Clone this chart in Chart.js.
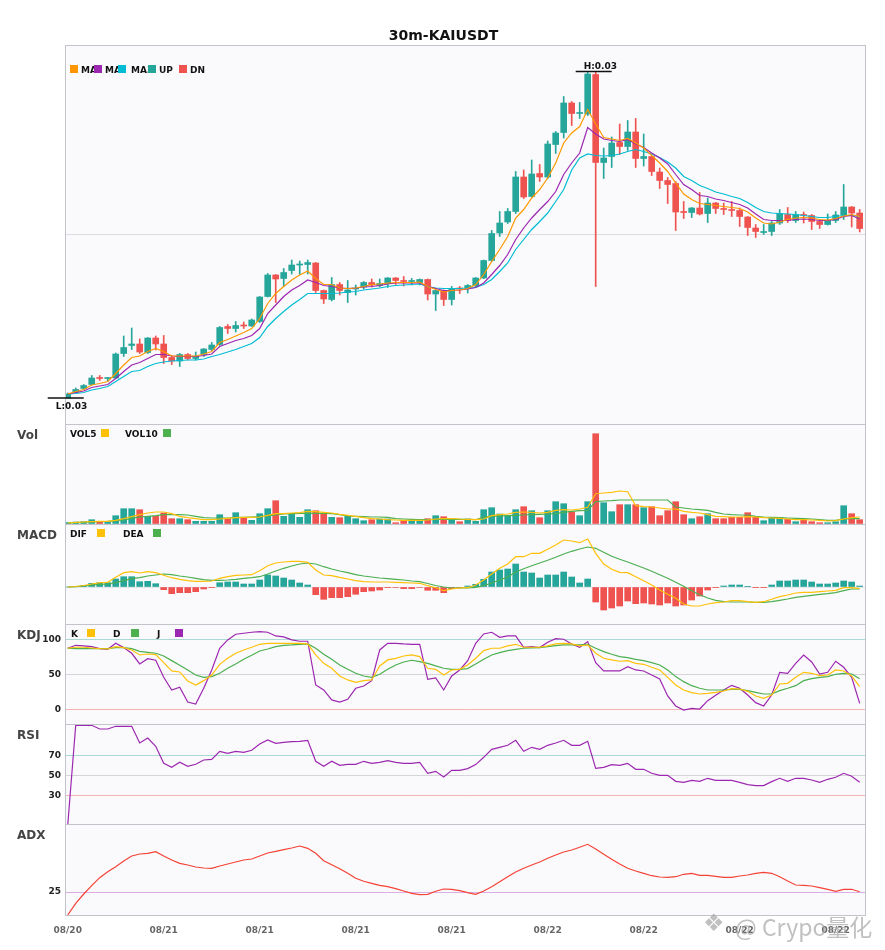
<!DOCTYPE html>
<html>
<head>
<meta charset="utf-8">
<title>30m-KAIUSDT</title>
<script src="https://cdn.jsdelivr.net/npm/chart.js"></script>
<style>
  body { margin: 0; background: #fff; }
  #wrap { position: relative; width: 885px; height: 950px; overflow: hidden; }
  #wrap canvas { position: absolute; left: 0; top: 0; }
  .wm { position: absolute; top: 909px; line-height: 23px; color: rgba(165,165,165,0.7); white-space: nowrap; }
  #wmIcon { left: 703px; font: 24px "DejaVu Sans", sans-serif; }
  #wmText { left: 735px; font: 23px "Noto Sans CJK SC", "Noto Sans", sans-serif; }
</style>
</head>
<body>
<div id="wrap">
  <canvas id="cMain" width="885" height="950"></canvas>
  <canvas id="cVol" width="885" height="950"></canvas>
  <canvas id="cMacd" width="885" height="950"></canvas>
  <canvas id="cKdj" width="885" height="950"></canvas>
  <canvas id="cRsi" width="885" height="950"></canvas>
  <canvas id="cAdx" width="885" height="950"></canvas>
  <div class="wm" id="wmIcon">❖</div>
  <div class="wm" id="wmText">@ Crypo量化</div>
</div>
<script>
// prices are in 1e-5 units (2800 = 0.02800)
const OPEN = [
  2800, 2811, 2819, 2827, 2841, 2839, 2840, 2889, 2905, 2908,
  2891, 2920, 2908, 2881, 2874, 2887, 2879, 2887, 2897, 2907,
  2943, 2939, 2946, 2944, 2953, 3003, 3046, 3039, 3055, 3066,
  3067, 3070, 3015, 2997, 3027, 3011, 3018, 3022, 3031, 3025,
  3029, 3040, 3035, 3033, 3031, 3037, 3008, 3015, 2997, 3020,
  3019, 3024, 3040, 3075, 3130, 3152, 3173, 3242, 3203, 3249,
  3242, 3307, 3331, 3390, 3369, 3368, 3447, 3271, 3283, 3311,
  3303, 3332, 3279, 3283, 3252, 3235, 3229, 3173, 3171, 3180,
  3169, 3190, 3179, 3177, 3175, 3162, 3140, 3131, 3133, 3150,
  3167, 3155, 3167, 3165, 3153, 3147, 3155, 3166, 3182, 3170
];
const HIGH = [
  2810, 2820, 2827, 2845, 2845, 2841, 2890, 2924, 2940, 2918,
  2921, 2924, 2925, 2885, 2889, 2889, 2892, 2899, 2911, 2943,
  2947, 2953, 2952, 2958, 3003, 3049, 3047, 3059, 3076, 3074,
  3076, 3071, 3016, 3041, 3031, 3035, 3026, 3033, 3038, 3038,
  3041, 3041, 3043, 3039, 3038, 3038, 3015, 3016, 3023, 3023,
  3027, 3041, 3076, 3135, 3173, 3179, 3253, 3256, 3276, 3267,
  3314, 3333, 3403, 3393, 3391, 3451, 3453, 3300, 3322, 3348,
  3355, 3359, 3328, 3284, 3260, 3241, 3233, 3193, 3181, 3211,
  3200, 3191, 3190, 3193, 3180, 3163, 3147, 3147, 3153, 3177,
  3181, 3173, 3172, 3167, 3155, 3168, 3173, 3227, 3183, 3177
];
const LOW = [
  2800, 2810, 2817, 2826, 2835, 2833, 2839, 2883, 2897, 2889,
  2889, 2896, 2869, 2867, 2863, 2876, 2876, 2883, 2895, 2905,
  2929, 2932, 2939, 2943, 2951, 3002, 2991, 3023, 3048, 3047,
  3048, 3011, 2989, 2994, 3006, 2991, 3006, 3018, 3022, 3022,
  3021, 3027, 3024, 3026, 3026, 2996, 2975, 2985, 2986, 3009,
  3010, 3023, 3039, 3073, 3123, 3149, 3169, 3199, 3202, 3233,
  3239, 3289, 3320, 3345, 3359, 3365, 3023, 3239, 3261, 3287,
  3295, 3261, 3264, 3245, 3219, 3189, 3135, 3159, 3161, 3166,
  3151, 3169, 3167, 3163, 3143, 3125, 3121, 3127, 3125, 3147,
  3151, 3151, 3150, 3137, 3139, 3146, 3151, 3157, 3142, 3132
];
const CLOSE = [
  2808, 2817, 2825, 2840, 2839, 2840, 2888, 2901, 2908, 2892,
  2920, 2908, 2881, 2874, 2887, 2879, 2884, 2898, 2906, 2941,
  2939, 2945, 2944, 2956, 3002, 3046, 3038, 3051, 3066, 3067,
  3071, 3015, 2998, 3027, 3015, 3016, 3019, 3031, 3026, 3029,
  3040, 3035, 3033, 3035, 3037, 3008, 3015, 2997, 3019, 3018,
  3025, 3040, 3075, 3129, 3150, 3173, 3242, 3202, 3248, 3242,
  3308, 3330, 3390, 3369, 3370, 3448, 3271, 3280, 3310, 3303,
  3332, 3279, 3283, 3253, 3235, 3227, 3172, 3171, 3180, 3168,
  3190, 3179, 3177, 3175, 3163, 3141, 3133, 3132, 3150, 3169,
  3155, 3167, 3165, 3153, 3147, 3155, 3166, 3182, 3170, 3139
];
const MA5 = [
  2808, 2813, 2817, 2826, 2829, 2833, 2849, 2866, 2881, 2884,
  2893, 2899, 2893, 2884, 2884, 2884, 2884, 2888, 2893, 2911,
  2917, 2924, 2931, 2939, 2959, 2989, 3009, 3023, 3036, 3046,
  3054, 3039, 3027, 3027, 3020, 3019, 3020, 3023, 3027, 3028,
  3030, 3031, 3031, 3031, 3032, 3023, 3017, 3012, 3015, 3016,
  3019, 3027, 3047, 3073, 3097, 3123, 3160, 3177, 3200, 3217,
  3240, 3270, 3310, 3330, 3343, 3377, 3348, 3321, 3318, 3315,
  3319, 3310, 3300, 3285, 3270, 3253, 3230, 3208, 3197, 3189,
  3187, 3185, 3183, 3181, 3179, 3172, 3160, 3150, 3148, 3152,
  3157, 3160, 3161, 3160, 3157, 3156, 3159, 3164, 3167, 3163
];
const MA10 = [
  2808, 2811, 2814, 2821, 2824, 2827, 2839, 2853, 2866, 2871,
  2879, 2887, 2887, 2884, 2883, 2883, 2883, 2885, 2888, 2903,
  2909, 2915, 2919, 2925, 2939, 2969, 2986, 3003, 3016, 3025,
  3036, 3031, 3025, 3023, 3020, 3019, 3020, 3022, 3023, 3025,
  3028, 3030, 3030, 3030, 3030, 3023, 3019, 3015, 3015, 3016,
  3018, 3021, 3030, 3047, 3065, 3087, 3117, 3140, 3160, 3177,
  3193, 3213, 3247, 3270, 3290, 3341, 3328, 3318, 3315, 3313,
  3317, 3308, 3301, 3290, 3280, 3268, 3247, 3227, 3217, 3205,
  3203, 3198, 3195, 3191, 3187, 3180, 3168, 3157, 3155, 3155,
  3155, 3157, 3158, 3157, 3155, 3155, 3157, 3163, 3165, 3158
];
const MA30 = [
  2808, 2809, 2811, 2816, 2819, 2823, 2833, 2843, 2853, 2855,
  2863, 2869, 2872, 2874, 2875, 2876, 2876, 2878, 2883, 2887,
  2892, 2897, 2903, 2909, 2921, 2943, 2959, 2973, 2986, 2997,
  3009, 3009, 3009, 3009, 3010, 3012, 3013, 3016, 3018, 3020,
  3023, 3025, 3026, 3027, 3028, 3023, 3020, 3019, 3019, 3019,
  3020, 3021, 3027, 3037, 3053, 3070, 3097, 3117, 3137, 3153,
  3170, 3193, 3217, 3256, 3280, 3288, 3285, 3284, 3285, 3288,
  3293, 3297, 3293, 3288, 3281, 3272, 3260, 3243, 3235, 3225,
  3219, 3212, 3208, 3203, 3199, 3191, 3181, 3173, 3170, 3169,
  3168, 3167, 3165, 3163, 3161, 3161, 3163, 3165, 3165, 3163
];
const VOLUME = [
  1500, 2000, 2300, 4300, 1700, 2300, 8300, 15300, 15300, 14300,
  7700, 7700, 11000, 5300, 5300, 4300, 2700, 2700, 2700, 9300,
  5000, 11300, 6700, 3700, 10300, 15300, 23300, 7700, 10000, 6700,
  14300, 13300, 10300, 6700, 6300, 8300, 5300, 3300, 4300, 5000,
  5000, 1300, 3700, 2700, 2700, 5300, 8300, 7300, 5500, 2300,
  5000, 2700, 14300, 16300, 10000, 8300, 14300, 17300, 13300, 6300,
  13300, 22300, 20300, 12300, 8300, 22300, 90300, 21300, 12300, 19300,
  19300, 19300, 16300, 17300, 8300, 13300, 22300, 9300, 5300, 7300,
  10300, 5300, 5300, 6700, 6700, 11300, 6700, 3300, 6300, 6300,
  4700, 2300, 4300, 2300, 1300, 1300, 2300, 18300, 10300, 4300
];
const VOL5 = [
  1000, 1700, 2000, 2300, 2700, 2700, 3700, 5300, 7300, 9300,
  11000, 12000, 12000, 10300, 7700, 6300, 5300, 4300, 4300, 5000,
  5700, 6300, 6700, 6700, 7000, 8700, 10300, 10300, 11000, 11300,
  12700, 12300, 11700, 11000, 9700, 8700, 7700, 6300, 5300, 5000,
  4300, 4000, 3700, 3700, 3700, 4000, 5000, 5300, 5500, 5000,
  4700, 4300, 5000, 8300, 9300, 10000, 11700, 12000, 11700, 11000,
  11700, 13700, 14300, 14000, 15000, 16700, 30300, 31000, 31700, 33000,
  32300, 18300, 17300, 17000, 16000, 15000, 15000, 12700, 11700, 11000,
  9300, 7700, 7300, 7000, 7000, 7300, 7000, 6300, 6000, 5700,
  5000, 4300, 4300, 4000, 3700, 3000, 3300, 5000, 6300, 7000
];
const VOL10 = [
  1000, 1300, 1700, 2000, 2300, 2700, 3300, 4000, 5700, 7000,
  7700, 8300, 9300, 9300, 9300, 9000, 7700, 6300, 6000, 6000,
  6000, 6300, 6700, 7000, 7300, 8000, 9000, 10000, 10300, 10700,
  10700, 10700, 10700, 10300, 9300, 8000, 7700, 7300, 7000, 7000,
  6700, 5300, 5000, 4700, 4300, 4300, 4500, 4700, 4700, 4700,
  4700, 4300, 7000, 7700, 8000, 8300, 8700, 9000, 9300, 9700,
  10000, 10300, 11700, 12700, 13300, 13700, 22300, 23000, 23300, 24000,
  24000, 24000, 24000, 24000, 24000, 24000, 17000, 16000, 15000, 14300,
  13700, 11700, 10000, 9300, 9000, 9000, 7700, 7000, 6700, 6300,
  6000, 5700, 5300, 5000, 4300, 3700, 3700, 5000, 5300, 5300
];
// MACD values in 1e-5 units
const MACD_HIST = [
  0, 0.3, 1.7, 3.7, 4.3, 4.3, 8, 10.3, 10.3, 5.3,
  5.7, 3.3, -2.7, -6.7, -5.7, -5.7, -4.7, -2, -0.7, 4.3,
  5, 5, 3, 3, 7, 12, 11, 9, 7, 4,
  2, -7.7, -12.3, -10.7, -10.7, -9.7, -7.3, -4.7, -4, -3,
  -0.7, -0.5, -1.7, -1.7, -0.5, -3.3, -3.3, -5.7, -1.7, -0.7,
  1, 2.7, 7.7, 15, 17, 18, 23, 15, 14, 9,
  12, 12, 15, 10, 4, 8, -15, -23, -21, -19,
  -14, -16.7, -16, -17, -18, -16, -19, -18, -13, -9,
  -3, -0.7, 1, 2, 2, 0.3, -0.7, -0.7, 2, 6,
  6, 7, 7, 5, 3, 3, 4, 6, 5, 1
];
const DIF = [
  0, 0.5, 1.5, 3, 4.3, 4.7, 9.7, 14.3, 15.3, 14,
  15.3, 14.3, 11.7, 9.3, 7.7, 6.3, 5.7, 5.7, 6, 8.7,
  10.3, 11.7, 12, 12.3, 16.3, 21.3, 24, 25, 25.7, 25.7,
  24.7, 17, 12, 11.3, 9.7, 8, 6.3, 5.3, 5, 5,
  5, 4.7, 4.3, 4, 3.7, 1.3, -0.7, -3.7, -2, -1,
  -0.7, 2, 7, 13, 18.7, 23, 30.3, 30.3, 33.7, 33.7,
  37.7, 42, 47, 46, 44.3, 48, 33.7, 23, 17.7, 14.7,
  14.3, 10.3, 6.3, 2, -3, -7.3, -11.3, -17, -19, -19,
  -17, -15.7, -15, -13.7, -13.7, -14.7, -15.3, -14.7, -12.3, -9.7,
  -8, -6, -5.3, -5.3, -4.7, -4, -3.3, -0.7, -0.7, -1.7
];
const DEA = [
  0, 0.3, 1, 2, 2.7, 3, 4.3, 6.3, 8.3, 9.3,
  11, 12, 13, 12.3, 11, 10, 8.7, 7.3, 6.7, 6.7,
  7, 7.7, 8.7, 9.3, 10.3, 13, 16, 18.7, 21, 23,
  24, 23, 20.3, 18, 16, 14.3, 12.3, 11, 10, 9,
  8.3, 7.7, 7, 6, 5.3, 3.5, 1.5, 0, -1, -1,
  -1, -0.3, 1.3, 4, 7, 10, 15, 18.3, 21.3, 24,
  26.7, 29.7, 33, 35.7, 38, 40, 38.7, 34.7, 30.7, 27.7,
  25, 22, 19, 15.7, 12.3, 8.7, 4.7, 0.7, -3.7, -7.7,
  -11, -13.3, -14.7, -15, -15, -15, -15.3, -15.3, -14.7, -13.3,
  -12, -10.3, -9.3, -8.3, -7.3, -6.7, -5.7, -3.7, -2, -2
];
const KDJ_K = [
  87.3, 88.7, 88.7, 87.7, 86.8, 86.3, 89.6, 88.2, 84.9, 77.8,
  79.2, 78.3, 67, 55.2, 53.8, 41, 35.4, 41.5, 49.5, 64.6,
  73.1, 80.2, 84.9, 88.7, 92.9, 94.3, 94.3, 94.3, 94.3, 94.3,
  93.4, 77.8, 66, 59, 48.1, 42.5, 39.2, 41.5, 42.5, 62.3,
  70.8, 73.1, 76.4, 77.8, 75.5, 59, 57.5, 49.5, 56.6, 57.5,
  63.7, 73.1, 84, 87.3, 87.3, 90.6, 92.9, 88.7, 88.7, 88.7,
  90.6, 93.4, 94.3, 93.4, 90.6, 92, 80.2, 73.1, 70.8, 68.9,
  69.8, 66, 64.6, 60.4, 56.6, 46.2, 35.4, 28.3, 24.5, 22.6,
  23.6, 25, 26.9, 30.2, 29.7, 26.4, 19.8, 16.5, 21.2, 36.8,
  37.7, 46.2, 53.3, 51.9, 48.6, 49.5, 56.6, 55.2, 48.1, 33
];
const KDJ_D = [
  87.3, 86.8, 86.8, 86.8, 86.8, 86.8, 88.2, 88.2, 86.8, 83,
  81.6, 80.2, 76.4, 69.8, 63.2, 56.6, 49.5, 46.2, 47.2, 51.9,
  59, 65.1, 71.7, 77.4, 83.5, 86.3, 89.6, 91.5, 92, 92.9,
  93.4, 87.3, 78.8, 71.7, 63.7, 57.5, 51.9, 48.1, 46.2, 50.5,
  57.5, 63.7, 67.9, 70.3, 68.4, 66, 62.3, 59, 57.5, 57.5,
  58.5, 65.1, 71.7, 77.8, 81.1, 84, 85.8, 87.3, 87.7, 88.2,
  89.6, 91, 92, 92, 92, 92.9, 87.3, 82.5, 78.8, 75.5,
  74.1, 71.7, 69.8, 67, 63.7, 56.6, 47.2, 40.1, 34.4, 30.7,
  28.3, 28.3, 28.3, 29.2, 29.2, 27.4, 25, 22.6, 22.6, 27.4,
  30.7, 34.4, 41.5, 44.3, 46.2, 47.2, 50.5, 51.9, 50.9, 44.3
];
const KDJ_J = [
  87.3, 91.5, 90.6, 89.6, 86.8, 85.8, 94.3, 88.2, 80.2, 65.1,
  72.6, 70.3, 46.2, 28.3, 32.1, 11.3, 8.5, 30.7, 56.6, 87.3,
  99.1, 107.1, 108.5, 109.9, 110.8, 109.9, 104.7, 103.3, 99.1, 97.2,
  97.2, 35.4, 28.3, 14.2, 11.3, 15.1, 30.7, 34, 41.5, 84.9,
  94.3, 94.3, 93.4, 92.9, 92.9, 43.4, 45.3, 28.3, 48.1, 56.6,
  69.8, 94.3, 107.5, 109.9, 102.8, 104.7, 104.7, 88.7, 89.6, 88.2,
  95.8, 100.9, 100, 93.4, 88.7, 96.7, 67, 55.2, 55.2, 55.2,
  61.3, 56.6, 55.2, 49.5, 43.9, 19.8, 5.7, 0, 2.4, 1.4,
  13.2, 20.8, 28.3, 34.9, 30.7, 21.2, 10.4, 5.7, 21.2, 53.3,
  51.9, 66, 77.8, 67.9, 50.9, 53.3, 68.9, 60.4, 46.2, 9.4
];
const RSI = [
  0, 100, 100, 100, 96.3, 96.3, 99, 99, 99, 82.3,
  87.3, 79, 62, 58, 63, 59, 61, 65.3, 66, 74,
  72, 74, 73, 75, 81.3, 85.3, 82, 83, 83.7, 84,
  85, 64, 59, 64, 60, 61, 61, 64, 62, 63,
  64.7, 63, 62, 62, 63, 52, 54, 48.3, 55, 55,
  56.7, 60.7, 68, 76, 78, 80, 85, 74, 78, 76,
  80, 82.3, 85, 80, 80, 84, 57, 58, 60.7, 60,
  62, 56, 56, 52, 50, 50, 44, 43, 45, 44,
  47, 45, 45, 45, 43, 40.7, 39.7, 39.7, 43.7, 47,
  44, 47, 47, 45.3, 43, 46, 48, 52, 49, 43
];
const ADX = [
  2, 13.7, 23, 31.3, 39.3, 45.3, 50.3, 56, 61, 63,
  63.7, 65.3, 61, 57, 53.7, 52, 50, 49, 48.7, 51,
  53, 55, 57, 58, 61, 64, 65.7, 67.3, 69, 71,
  68.7, 63.7, 56.3, 52.3, 48.3, 43.7, 38.7, 35.7, 33.7, 31.7,
  30.3, 28.3, 26, 23.7, 22.3, 22.7, 25.8, 28, 27.7, 26.3,
  24.3, 22.7, 26, 30.3, 35.3, 40.3, 45, 48.7, 52, 55,
  58.7, 62, 65, 67, 69.7, 72.7, 68, 62.7, 57.7, 53,
  48.7, 46, 43.7, 41.3, 40, 39.7, 40.3, 42.7, 43.7, 41.7,
  41.7, 40.7, 39.7, 39.7, 41, 42, 43.7, 44.7, 43.7, 40.3,
  36, 32, 31.7, 31, 29.3, 27.7, 25.7, 27.7, 27.7, 25.3
];
const TICK_IDX = [0, 12, 24, 36, 48, 60, 72, 84, 96];
const TICK_LABELS = ['08/20', '08/21', '08/21', '08/21', '08/21', '08/22', '08/22', '08/22', '08/22'];

Chart.defaults.font.family = '"DejaVu Sans", sans-serif';

const UP = '#26a69a', DN = '#ef5350';
const FONT = '"DejaVu Sans", sans-serif';
const idx = OPEN.map((_, i) => i);
const dir = idx.map(i => CLOSE[i] >= OPEN[i] ? UP : DN);
const price = v => v / 1e5;
const pts = (arr, f) => arr.map((v, i) => ({ x: i, y: f ? f(v) : v }));

function line(label, data, color) {
  return { type: 'line', label, data, borderColor: color, borderWidth: 1.2,
           pointRadius: 0, tension: 0, fill: false, order: 1 };
}
function bars(data, colors, width) {
  return { type: 'bar', data, backgroundColor: colors, barThickness: width,
           grouped: false, order: 2 };
}

// background, border, panel name, legend and H/L markers
function decor(p) {
  return {
    id: 'decor',
    beforeDraw(chart) {
      const { ctx, chartArea: a } = chart;
      ctx.save();
      ctx.fillStyle = '#fafafc';
      ctx.fillRect(a.left, a.top, a.right - a.left, a.bottom - a.top);
      ctx.restore();
    },
    afterDraw(chart) {
      const { ctx, chartArea: a } = chart;
      ctx.save();
      ctx.strokeStyle = '#c3c3cb';
      ctx.lineWidth = 1;
      ctx.strokeRect(a.left + 0.5, a.top + 0.5, a.right - a.left - 1, a.bottom - a.top);

      if (p.title) {
        ctx.fillStyle = '#111';
        ctx.font = 'bold 14px ' + FONT;
        ctx.textAlign = 'center';
        ctx.fillText(p.title, 443.5, 39.5);
      }
      if (p.name) {
        ctx.fillStyle = '#444';
        ctx.font = 'bold 12px ' + FONT;
        ctx.textAlign = 'left';
        ctx.fillText(p.name, 17, a.top + 15);
      }
      if (p.legend) {
        const lg = p.legend;
        ctx.font = 'bold 9px ' + FONT;
        ctx.textAlign = 'left';
        lg.items.forEach((it, k) => {
          ctx.fillStyle = it.c;
          ctx.fillRect(it.sx, a.top + lg.sy, 8, 8);
          ctx.save();
          if (lg.clip && lg.items[k + 1]) {
            ctx.beginPath();
            ctx.rect(it.tx, a.top, lg.items[k + 1].sx - it.tx, 40);
            ctx.clip();
          }
          ctx.fillStyle = '#111';
          ctx.fillText(it.t, it.tx, a.top + lg.ty);
          ctx.restore();
        });
      }
      if (p.hl) {
        const xs = chart.scales.x, ys = chart.scales.y;
        const hi = Math.max(...HIGH), lo = Math.min(...LOW);
        const marks = [
          { v: hi, i: HIGH.indexOf(hi), tag: 'H:', dy: -3 },
          { v: lo, i: LOW.indexOf(lo), tag: 'L:', dy: 11 }
        ];
        ctx.strokeStyle = '#111';
        ctx.fillStyle = '#111';
        ctx.lineWidth = 1.3;
        ctx.font = 'bold 9px ' + FONT;
        marks.forEach(m => {
          const x = xs.getPixelForValue(m.i), y = ys.getPixelForValue(price(m.v));
          ctx.beginPath();
          ctx.moveTo(x - 20, y);
          ctx.lineTo(x + 16, y);
          ctx.stroke();
          ctx.fillText(m.tag + price(m.v).toFixed(2), x - 12, y + m.dy);
        });
      }
      ctx.restore();
    }
  };
}

const GRID_UP = '#a9d9d2', GRID_MID = '#d4d4d9', GRID_DN = '#f5b3b3';

const panels = [
  {
    id: 'cMain', top: 45, bottom: 424, min: 0.02748, max: 0.03506, title: '30m-KAIUSDT', hl: true,
    lines: [{ v: 0.03126, c: '#dcdce1' }],
    legend: { sy: 20, ty: 27.5, clip: true, items: [
      { t: 'MA5', c: '#ff9800', sx: 70, tx: 81 },
      { t: 'MA10', c: '#9c27b0', sx: 94, tx: 105 },
      { t: 'MA30', c: '#00bcd4', sx: 118, tx: 131 },
      { t: 'UP', c: UP, sx: 148, tx: 159 },
      { t: 'DN', c: DN, sx: 179, tx: 190 }
    ] },
    datasets: [
      Object.assign(bars(idx.map(i => ({ x: i, y: [price(LOW[i]), price(HIGH[i])] })), dir, 1), { order: 3 }),
      Object.assign(bars(idx.map(i => ({ x: i, y: [price(OPEN[i]), price(CLOSE[i])] })), dir, 6), { minBarLength: 1 }),
      line('MA5', pts(MA5, price), '#ff9800'),
      line('MA10', pts(MA10, price), '#9c27b0'),
      line('MA30', pts(MA30, price), '#00bcd4')
    ]
  },
  {
    id: 'cVol', top: 424, bottom: 524, min: 0, max: 100000, name: 'Vol',
    lines: [{ v: 0, c: 'rgba(0,0,0,0)' }],
    legend: { sy: 5, ty: 12.5, items: [
      { t: 'VOL5', c: '#ffc107', tx: 70, sx: 101 },
      { t: 'VOL10', c: '#4caf50', tx: 125, sx: 163 }
    ] },
    datasets: [
      bars(pts(VOLUME), dir, 6),
      line('VOL5', pts(VOL5), '#ffc107'),
      line('VOL10', pts(VOL10), '#4caf50')
    ]
  },
  {
    id: 'cMacd', top: 524, bottom: 624, min: -37, max: 63, name: 'MACD',
    lines: [{ v: 0, c: '#e3e3e8' }],
    legend: { sy: 5, ty: 12.5, items: [
      { t: 'DIF', c: '#ffc107', tx: 70, sx: 97 },
      { t: 'DEA', c: '#4caf50', tx: 123, sx: 153 }
    ] },
    datasets: [
      bars(pts(MACD_HIST), MACD_HIST.map(v => v >= 0 ? UP : DN), 6),
      line('DIF', pts(DIF), '#ffc107'),
      line('DEA', pts(DEA), '#4caf50')
    ]
  },
  {
    id: 'cKdj', top: 624, bottom: 724, min: -19.8, max: 121.6, name: 'KDJ', labels: true,
    lines: [{ v: 0, c: GRID_DN }, { v: 50, c: GRID_MID }, { v: 100, c: GRID_UP }],
    legend: { sy: 5, ty: 12.5, items: [
      { t: 'K', c: '#ffc107', tx: 71, sx: 87 },
      { t: 'D', c: '#4caf50', tx: 113, sx: 131 },
      { t: 'J', c: '#9c27b0', tx: 157, sx: 175 }
    ] },
    datasets: [
      line('K', pts(KDJ_K), '#ffc107'),
      line('D', pts(KDJ_D), '#4caf50'),
      line('J', pts(KDJ_J), '#9c27b0')
    ]
  },
  {
    id: 'cRsi', top: 724, bottom: 824, min: 1.3, max: 101.3, name: 'RSI', labels: true,
    lines: [{ v: 30, c: GRID_DN }, { v: 50, c: GRID_MID }, { v: 70, c: GRID_UP }],
    datasets: [line('RSI', pts(RSI), '#9c27b0')]
  },
  {
    id: 'cAdx', top: 824, bottom: 915, min: 2, max: 93, name: 'ADX', labels: true, showX: true,
    lines: [{ v: 25, c: '#dcaee6' }],
    datasets: [line('ADX', pts(ADX), '#f44336')]
  }
];

panels.forEach(p => {
  const xh = p.showX ? 20 : 0;
  new Chart(document.getElementById(p.id), {
    type: 'bar',
    data: { datasets: p.datasets },
    options: {
      responsive: false,
      animation: false,
      events: [],
      layout: { padding: { top: p.top, bottom: 950 - p.bottom - xh, left: 0, right: 19 } },
      plugins: { legend: { display: false }, tooltip: { enabled: false } },
      scales: {
        x: {
          type: 'linear', min: -0.34, max: 99.79, offset: false,
          display: !!p.showX,
          grid: { display: false },
          border: { display: false },
          afterFit: s => { s.height = xh; },
          afterBuildTicks: s => { s.ticks = TICK_IDX.map(v => ({ value: v })); },
          ticks: {
            autoSkip: false, maxRotation: 0, padding: 2,
            color: '#666', font: { size: 9, weight: 'bold' },
            callback: (v, i) => TICK_LABELS[i]
          }
        },
        y: {
          min: p.min, max: p.max,
          afterFit: s => { s.width = 65; },
          afterBuildTicks: s => { s.ticks = p.lines.map(l => ({ value: l.v })); },
          grid: { drawTicks: false, lineWidth: 1, color: c => (p.lines[c.index] || {}).c || 'rgba(0,0,0,0)' },
          border: { display: false },
          ticks: {
            display: !!p.labels, padding: 4,
            color: '#222', font: { size: 9, weight: 'bold' },
            callback: v => String(v)
          }
        }
      }
    },
    plugins: [decor(p)]
  });
});
</script>
</body>
</html>
